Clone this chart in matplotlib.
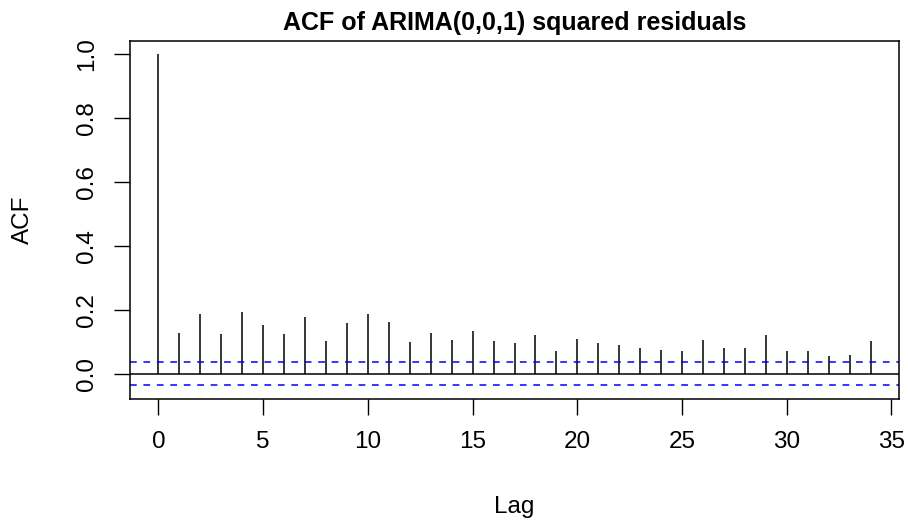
import matplotlib.pyplot as plt
import numpy as np

plt.rcParams['font.family'] = ['Liberation Sans', 'DejaVu Sans']

lags = np.arange(35)
acf_vals = [1.0, 0.128, 0.185, 0.125, 0.192, 0.153, 0.123, 0.176, 0.102, 0.157,
            0.185, 0.161, 0.100, 0.126, 0.105, 0.132, 0.103, 0.095, 0.119, 0.071,
            0.107, 0.097, 0.089, 0.081, 0.075, 0.072, 0.104, 0.081, 0.081, 0.120,
            0.070, 0.072, 0.055, 0.059, 0.103]
clim = 0.0367
title = "ACF of ARIMA(0,0,1) squared residuals"

W, H = 908, 525
fig = plt.figure(figsize=(W / 100, H / 100), dpi=100)
# plot region in pixels: x 130..899, y 40.7..398.5
ax = fig.add_axes([130 / W, 1 - 398.5 / H, (899 - 130) / W, (398.5 - 40.7) / H])

ax.vlines(lags, 0, acf_vals, color='black', lw=1.1)
ax.axhline(0, color='black', lw=1.1)
ax.axhline(clim, color='blue', lw=1.1, ls=(0, (4.4, 4.4)))
ax.axhline(-clim, color='blue', lw=1.1, ls=(0, (4.4, 4.4)))

lo = min(-clim, min(acf_vals))
hi = max(acf_vals)
pad = (hi - lo) * 0.04
ax.set_ylim(lo - pad, hi + pad)
ax.set_xlim(-0.04 * 34, 34 * 1.04)

fs = 17.5
ax.set_xticks(np.arange(0, 36, 5))
ax.set_yticks(np.arange(0, 1.01, 0.2))
ax.set_yticklabels([f"{v:.1f}" for v in np.arange(0, 1.01, 0.2)], rotation=90, va='center')
ax.tick_params(axis='both', length=11.2, width=1, labelsize=fs, direction='out')
ax.tick_params(axis='y', pad=12)
ax.tick_params(axis='x', pad=12.5)
for s in ax.spines.values():
    s.set_linewidth(1.1)

ax.set_title(title, fontsize=18, fontweight='bold', pad=8)
fig.text(514 / W, 1 - 507 / H, "Lag", fontsize=fs, ha='center', va='center')
fig.text(22.5 / W, 1 - 219.5 / H, "ACF", fontsize=fs, ha='center', va='center', rotation=90)

fig.savefig("out.png", dpi=100)
